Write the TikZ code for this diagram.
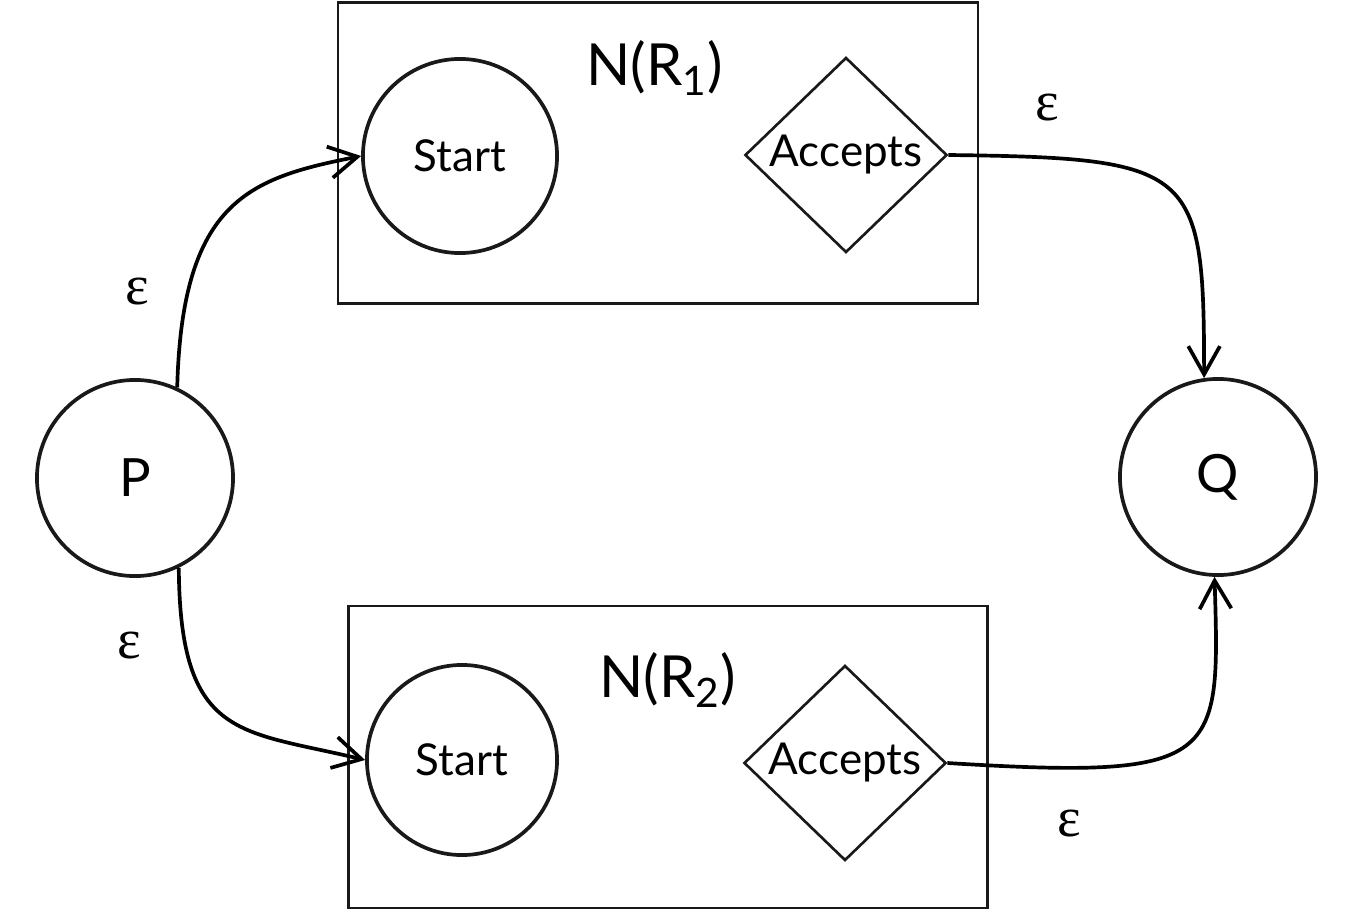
\documentclass[tikz,border=0pt]{standalone}
\usepackage{fontspec}
\setmainfont{Lato}
\newfontfamily\epsfont{Liberation Serif}
\usetikzlibrary{shapes.geometric,arrows.meta,positioning}

\begin{document}
\begin{tikzpicture}[
        x=0.01cm, y=-0.01cm,
        font=\fontsize{12.5}{15}\selectfont,
        % Block styles
        frame/.style={
            rectangle,
            draw=black!90,
            line width=0.7pt,
            inner sep=0pt
        },
        state/.style={
            circle,
            draw=black!90,
            line width=1.05pt,
            minimum size=#1,
            inner sep=0pt
        },
        accept/.style={
            diamond,
            draw=black!90,
            line width=0.75pt,
            aspect=1,
            minimum width=2.02cm,
            minimum height=1.95cm,
            inner sep=0pt
        },
        arrow/.style={-{Straight Barb[length=8pt, width=9pt]}, line width=1.05pt},
        eps/.style={font=\epsfont\fontsize{16}{18}\selectfont},
        label/.style={font=\fontsize{16.5}{20}\selectfont}
    ]
    \useasboundingbox (0,0) rectangle (1357,912);

    % Frames
    \node[frame, minimum width=6.40cm, minimum height=3.01cm] (box1) at (658, 153) {};
    \node[frame, minimum width=6.39cm, minimum height=3.02cm] (box2) at (668, 757) {};
    \node[label] (n1) at (655, 68) {N(R\textsubscript{1})};
    \node[label] (n2) at (668, 680) {N(R\textsubscript{2})};

    % States
    \node[state=1.94cm] (s1) at (460, 156) {Start};
    \node[accept] (a1) at (846, 155) {Accepts};
    \node[state=1.90cm] (s2) at (462, 760) {Start};
    \node[accept] (a2) at (845, 763) {Accepts};

    \node[state=1.96cm, font=\fontsize{15}{18}\selectfont] (p) at (135, 478) {P};
    \node[state=1.96cm, font=\fontsize{15}{18}\selectfont] (q) at (1218, 477) {Q};

    % Epsilon labels
    \node[eps] (e1) at (137, 292) {ε};
    \node[eps] (e2) at (129, 646) {ε};
    \node[eps] (e3) at (1047, 108) {ε};
    \node[eps] (e4) at (1069, 824) {ε};

    % Connections
    \draw[arrow] (p.65) .. controls (182, 200) and (250, 178) .. (s1.west);
    \draw[arrow] (p.-64) .. controls (180, 740) and (240, 730) .. (s2.west);
    \draw[arrow] (a1.east) .. controls (1195, 158) and (1204, 168) .. (q.98);
    \draw[arrow] (a2.east) .. controls (1222, 780) and (1220, 760) .. (q.-92);

\end{tikzpicture}
\end{document}
